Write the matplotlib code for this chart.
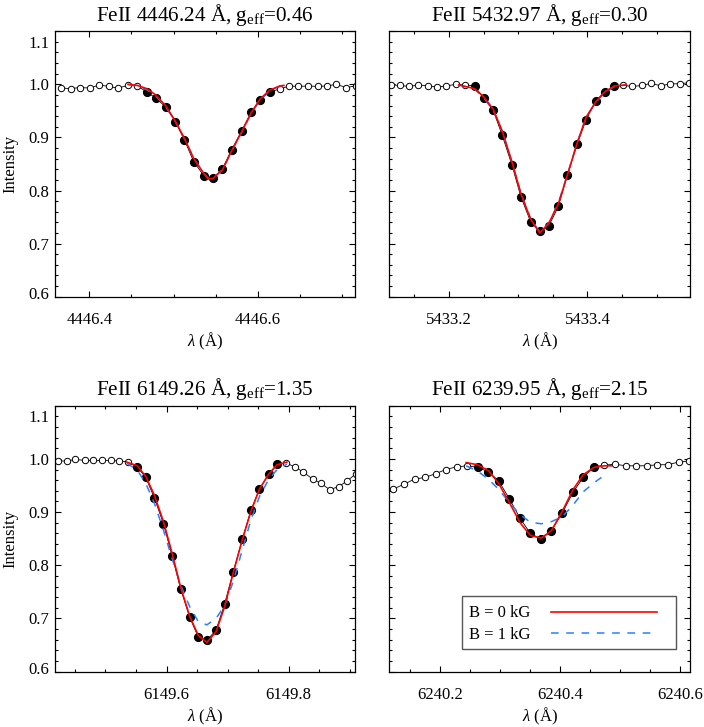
"""
FeII line profiles: observed spectrum vs. synthetic fits for B = 0 and 1 kG
"""

import matplotlib
matplotlib.use('Agg')
import matplotlib.pyplot as plt
from matplotlib.ticker import MultipleLocator, FormatStrFormatter
from matplotlib.patches import Rectangle
from matplotlib.transforms import ScaledTranslation

plt.rcParams['font.family'] = ['Liberation Serif', 'DejaVu Serif']
plt.rcParams['mathtext.fontset'] = 'custom'
plt.rcParams['mathtext.rm'] = 'Liberation Serif'
plt.rcParams['mathtext.it'] = 'Liberation Serif:italic'

# panel titles
titles = [r'FeII 4446.24 Å, g$_{\rm eff}$=0.46',
          r'FeII 5432.97 Å, g$_{\rm eff}$=0.30',
          r'FeII 6149.26 Å, g$_{\rm eff}$=1.35',
          r'FeII 6239.95 Å, g$_{\rm eff}$=2.15']

# x ranges of each panel (Angstrom)
xranges = [(4446.359, 4446.715), (5433.114, 5433.548),
           (6149.417, 6149.908), (6240.115, 6240.616)]

# ---- FeII 4446.24 ----
obs_wl_1 = [4446.367, 4446.378, 4446.389, 4446.401, 4446.412, 4446.423, 4446.434, 4446.446,
            4446.457, 4446.468, 4446.479, 4446.491, 4446.502, 4446.513, 4446.524, 4446.536,
            4446.547, 4446.558, 4446.569, 4446.581, 4446.592, 4446.603, 4446.614, 4446.626,
            4446.637, 4446.648, 4446.660, 4446.671, 4446.682, 4446.693, 4446.705, 4446.716]
obs_int_1 = [0.993, 0.992, 0.994, 0.993, 0.999, 0.996, 0.993, 0.998,
             0.997, 0.986, 0.974, 0.957, 0.930, 0.895, 0.854, 0.828,
             0.823, 0.841, 0.877, 0.913, 0.947, 0.971, 0.986, 0.991,
             0.997, 0.996, 0.997, 0.996, 0.997, 1.000, 0.994, 0.997]
fit_1 = (9, 23)   # indices of points used in the fit (filled symbols)
mod_wl_1 = [4446.446, 4446.457, 4446.468, 4446.479, 4446.491, 4446.502, 4446.513, 4446.524,
            4446.536, 4446.541, 4446.547, 4446.558, 4446.569, 4446.581, 4446.592, 4446.603,
            4446.614, 4446.626, 4446.631]
b0_int_1 = [1.000, 0.998, 0.992, 0.980, 0.959, 0.931, 0.898, 0.860,
            0.832, 0.8215, 0.823, 0.839, 0.875, 0.911, 0.946, 0.973,
            0.989, 0.997, 0.998]
b1_int_1 = [1.000, 0.997, 0.990, 0.978, 0.957, 0.930, 0.897, 0.860,
            0.833, 0.823, 0.824, 0.839, 0.874, 0.910, 0.945, 0.971,
            0.988, 0.996, 0.999]

# ---- FeII 5432.97 ----
obs_wl_2 = [5433.116, 5433.129, 5433.143, 5433.156, 5433.170, 5433.183, 5433.196, 5433.210,
            5433.223, 5433.237, 5433.250, 5433.264, 5433.277, 5433.291, 5433.304, 5433.318,
            5433.331, 5433.344, 5433.358, 5433.371, 5433.385, 5433.398, 5433.412, 5433.425,
            5433.439, 5433.452, 5433.465, 5433.479, 5433.492, 5433.506, 5433.519, 5433.533,
            5433.546]
obs_int_2 = [0.999, 0.998, 0.996, 0.999, 0.997, 0.995, 0.997, 1.000,
             0.999, 0.997, 0.974, 0.951, 0.904, 0.848, 0.788, 0.741,
             0.723, 0.733, 0.770, 0.829, 0.887, 0.933, 0.969, 0.986,
             0.996, 0.998, 0.996, 0.998, 1.002, 0.997, 1.001, 1.001,
             1.003]
fit_2 = (9, 25)
mod_wl_2 = [5433.214, 5433.237, 5433.250, 5433.264, 5433.277, 5433.291, 5433.304, 5433.318,
            5433.331, 5433.344, 5433.358, 5433.371, 5433.385, 5433.398, 5433.412, 5433.425,
            5433.439, 5433.456]
b0_int_2 = [0.999, 0.992, 0.977, 0.953, 0.912, 0.854, 0.794, 0.746,
            0.720, 0.738, 0.775, 0.829, 0.889, 0.938, 0.967, 0.986,
            0.997, 0.999]
b1_int_2 = [0.999, 0.991, 0.975, 0.951, 0.911, 0.853, 0.794, 0.747,
            0.722, 0.738, 0.776, 0.830, 0.889, 0.937, 0.966, 0.985,
            0.996, 0.999]

# ---- FeII 6149.26 ----
obs_wl_3 = [6149.423, 6149.437, 6149.451, 6149.466, 6149.480, 6149.494, 6149.509, 6149.523,
            6149.537, 6149.552, 6149.566, 6149.580, 6149.595, 6149.609, 6149.623, 6149.638,
            6149.652, 6149.666, 6149.681, 6149.695, 6149.709, 6149.724, 6149.738, 6149.752,
            6149.767, 6149.781, 6149.796, 6149.810, 6149.824, 6149.839, 6149.853, 6149.867,
            6149.882, 6149.896, 6149.910]
obs_int_3 = [0.996, 0.996, 0.999, 0.997, 0.997, 0.997, 0.997, 0.996,
             0.994, 0.985, 0.965, 0.927, 0.878, 0.818, 0.756, 0.702,
             0.665, 0.659, 0.678, 0.727, 0.787, 0.849, 0.903, 0.943,
             0.971, 0.990, 0.992, 0.985, 0.975, 0.962, 0.954, 0.942,
             0.948, 0.959, 0.972]
fit_3 = (9, 26)
mod_wl_3 = [6149.535, 6149.552, 6149.566, 6149.580, 6149.595, 6149.609, 6149.623, 6149.638,
            6149.652, 6149.666, 6149.681, 6149.695, 6149.709, 6149.724, 6149.738, 6149.752,
            6149.767, 6149.781, 6149.797]
b0_int_3 = [0.994, 0.987, 0.967, 0.932, 0.882, 0.823, 0.759, 0.704,
            0.668, 0.655, 0.675, 0.722, 0.785, 0.848, 0.901, 0.943,
            0.971, 0.989, 0.994]
b1_int_3 = [0.992, 0.979, 0.954, 0.917, 0.866, 0.813, 0.763, 0.722,
            0.694, 0.688, 0.700, 0.724, 0.769, 0.829, 0.885, 0.929,
            0.961, 0.980, 0.990]

# ---- FeII 6239.95 ----
obs_wl_4 = [6240.121, 6240.139, 6240.157, 6240.174, 6240.192, 6240.209, 6240.227, 6240.245,
            6240.262, 6240.280, 6240.297, 6240.315, 6240.333, 6240.350, 6240.368, 6240.385,
            6240.403, 6240.421, 6240.438, 6240.456, 6240.473, 6240.491, 6240.509, 6240.526,
            6240.544, 6240.561, 6240.579, 6240.597, 6240.614]
obs_int_4 = [0.943, 0.952, 0.962, 0.965, 0.972, 0.980, 0.985, 0.987,
             0.984, 0.976, 0.959, 0.925, 0.888, 0.860, 0.849, 0.865,
             0.898, 0.937, 0.965, 0.985, 0.988, 0.990, 0.987, 0.987,
             0.987, 0.989, 0.989, 0.994, 0.996]
fit_4 = (8, 20)
mod_wl_4 = [6240.243, 6240.262, 6240.280, 6240.297, 6240.315, 6240.333, 6240.350, 6240.368,
            6240.385, 6240.403, 6240.421, 6240.438, 6240.456, 6240.473, 6240.485]
b0_int_4 = [0.993, 0.989, 0.978, 0.954, 0.918, 0.880, 0.856, 0.851,
            0.865, 0.901, 0.942, 0.970, 0.984, 0.987, 0.987]
mod_wl_4b = [6240.243, 6240.262, 6240.280, 6240.297, 6240.315, 6240.333, 6240.350, 6240.368,
             6240.385, 6240.403, 6240.421, 6240.438, 6240.456, 6240.478]
b1_int_4 = [0.987, 0.977, 0.962, 0.943, 0.918, 0.895, 0.881, 0.878,
            0.882, 0.891, 0.913, 0.938, 0.955, 0.973]

panels = [
    (obs_wl_1, obs_int_1, fit_1, mod_wl_1, b0_int_1, mod_wl_1, b1_int_1),
    (obs_wl_2, obs_int_2, fit_2, mod_wl_2, b0_int_2, mod_wl_2, b1_int_2),
    (obs_wl_3, obs_int_3, fit_3, mod_wl_3, b0_int_3, mod_wl_3, b1_int_3),
    (obs_wl_4, obs_int_4, fit_4, mod_wl_4, b0_int_4, mod_wl_4b, b1_int_4),
]

# axes positions in figure fractions (left, bottom, width, height)
positions = [(0.0777, 0.5919, 0.4262, 0.3651), (0.5530, 0.5919, 0.4271, 0.3651),
             (0.0777, 0.0761, 0.4262, 0.3659), (0.5530, 0.0761, 0.4271, 0.3659)]

RED = '#ff0000'
BLUE = '#2a7fff'

fig = plt.figure(figsize=(7.04, 7.27), dpi=100)

for k in range(4):
    wl, inten, fit, mwl0, m0, mwl1, m1 = panels[k]
    ax = fig.add_axes(positions[k])

    # observed spectrum
    ax.plot(wl, inten, color='black', lw=0.6, zorder=1)
    s, e = fit
    ax.plot(wl[:s], inten[:s], 'o', ms=4.6, mfc='white', mec='black', mew=0.7, zorder=2)
    ax.plot(wl[e:], inten[e:], 'o', ms=4.6, mfc='white', mec='black', mew=0.7, zorder=2)
    ax.plot(wl[s:e], inten[s:e], 'o', ms=5.6, mfc='black', mec='black', zorder=2)

    # synthetic profiles
    ax.plot(mwl1, m1, color=BLUE, lw=1.1, dashes=(5, 5), zorder=3, label='B = 1 kG')
    ax.plot(mwl0, m0, color=RED, lw=1.2, zorder=4, label='B = 0 kG')

    ax.set_xlim(*xranges[k])
    ax.set_ylim(0.6, 1.1)
    ax.xaxis.set_major_locator(MultipleLocator(0.2))
    ax.xaxis.set_minor_locator(MultipleLocator(0.05))
    ax.xaxis.set_major_formatter(FormatStrFormatter('%.1f'))
    ax.set_yticks([0.6, 0.7, 0.8, 0.9, 1.0, 1.1])
    ax.yaxis.set_minor_locator(MultipleLocator(0.02))
    ax.tick_params(which='both', direction='in', top=True, right=True, width=0.8)
    ax.tick_params(which='major', length=4.3)
    ax.tick_params(which='minor', length=2.2)
    ax.tick_params(axis='x', labelsize=12, pad=11)
    ax.tick_params(axis='y', labelsize=12, pad=4)
    for sp in ax.spines.values():
        sp.set_linewidth(0.9)

    if k % 2 == 0:
        ax.yaxis.set_major_formatter(FormatStrFormatter('%.1f'))
        ax.set_ylabel('Intensity', fontsize=12)
        ax.yaxis.set_label_coords(-0.122, 0.5)
        # end labels sit a bit inside the axis range, as in the original
        ticks = ax.yaxis.get_major_ticks()
        lab0 = ticks[0].label1
        lab0.set_transform(lab0.get_transform() + ScaledTranslation(0, 0.034, fig.dpi_scale_trans))
        lab1 = ticks[-1].label1
        lab1.set_transform(lab1.get_transform() + ScaledTranslation(0, -0.104, fig.dpi_scale_trans))
    else:
        ax.set_yticklabels([])

    ax.set_xlabel(r'$\lambda$ (Å)', fontsize=12)
    ax.xaxis.set_label_coords(0.5, -0.128)
    ax.xaxis.label.set_va('top')
    ax.set_title(titles[k], fontsize=15.2, pad=7.5)

    if k == 3:
        # legend box drawn separately to get the wide right margin
        ax.add_patch(Rectangle((0.241, 0.084), 0.712, 0.202, transform=ax.transAxes,
                               facecolor='white', edgecolor='#555555', lw=1.0, zorder=5))
        h, l = ax.get_legend_handles_labels()
        leg = ax.legend(h[::-1], l[::-1], loc='upper left', bbox_to_anchor=(0.266, 0.249),
                        borderaxespad=0, borderpad=0, fontsize=12, markerfirst=False,
                        handlelength=6.4, handletextpad=1.2, labelspacing=0.33,
                        frameon=False)
        leg.set_zorder(6)

plt.savefig('out.png', dpi=100)
